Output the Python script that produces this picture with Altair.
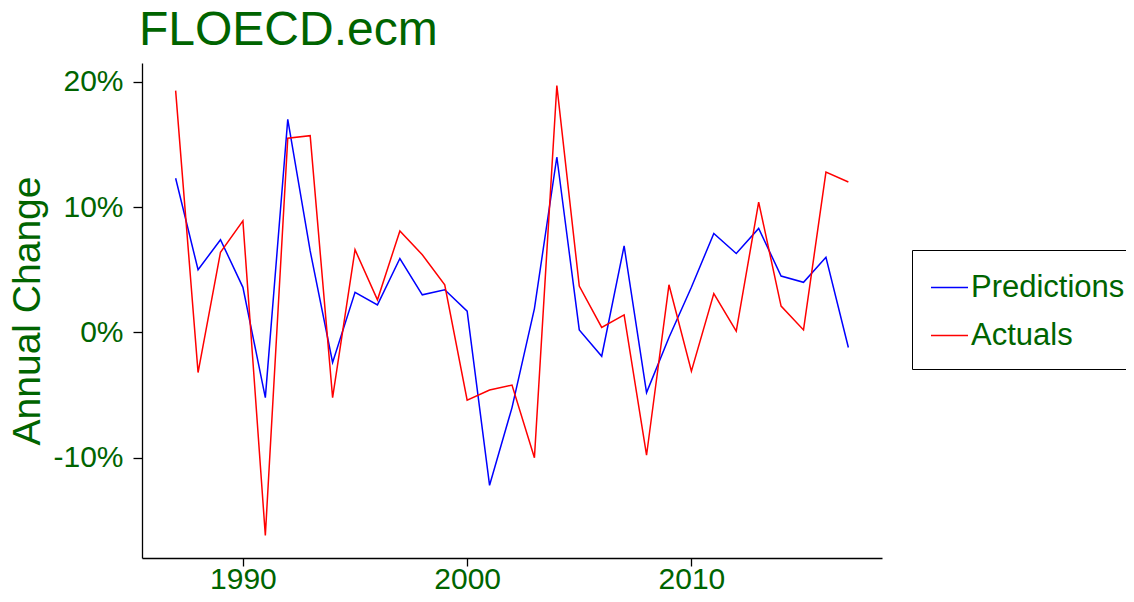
import altair as alt
import pandas as pd

years = list(range(1987, 2018))

predictions = [12.3, 5.0, 7.4, 3.6, -5.2, 17.0, 6.5, -2.4, 3.2, 2.2,
               5.9, 3.0, 3.4, 1.7, -12.2, -6.0, 1.9, 14.0, 0.2, -1.9,
               6.9, -4.8, -0.4, 3.6, 7.9, 6.3, 8.3, 4.5, 4.0, 6.0, -1.2]

actuals = [19.3, -3.2, 6.4, 8.9, -16.2, 15.5, 15.7, -5.2, 6.6, 2.6,
           8.1, 6.2, 3.8, -5.4, -4.6, -4.2, -10.0, 19.7, 3.7, 0.4,
           1.4, -9.8, 3.8, -3.1, 3.1, 0.1, 10.4, 2.1, 0.2, 12.8, 12.0]

series_names = ["Predictions", "Actuals"]
series_colors = ["#0000FF", "#FF0000"]

x_ticks = [1990, 2000, 2010]
y_ticks = [-0.1, 0.0, 0.1, 0.2]

title_text = ["FLOECD.ecm"]

rows = []
for name, vals in zip(series_names, [predictions, actuals]):
    for yr, v in zip(years, vals):
        rows.append({"year": yr, "value": v / 100.0, "series": name})
df = pd.DataFrame(rows)

GREEN = "#006400"
FONT = "Liberation Sans"

lines = alt.Chart(df).mark_line(strokeWidth=1.5).encode(
    x=alt.X(
        "year:Q",
        scale=alt.Scale(domain=[1985.5, 2018.5], nice=False, zero=False),
        axis=alt.Axis(values=x_ticks, format="d", title=None,
                      tickSize=8, labelPadding=-2),
    ),
    y=alt.Y(
        "value:Q",
        scale=alt.Scale(domain=[-0.18, 0.215], nice=False, zero=False),
        axis=alt.Axis(values=y_ticks, format=".0%", title="Annual Change",
                      labelExpr="replace(datum.label, '\u2212', '-')",
                      tickSize=9, labelPadding=10, titlePadding=5),
    ),
    color=alt.Color(
        "series:N",
        scale=alt.Scale(domain=series_names, range=series_colors),
        sort=series_names,
        legend=alt.Legend(
            title=None, orient="none", legendX=770, legendY=187,
            symbolType="stroke", symbolSize=1369, symbolStrokeWidth=1.5,
            labelFontSize=31, labelFont=FONT, labelColor=GREEN,
            labelOffset=2, rowPadding=13, padding=18,
            strokeColor="black", fillColor="white", cornerRadius=0,
        ),
    ),
    detail="series:N",
)

title = alt.Chart(pd.DataFrame({"t": title_text})).mark_text(
    align="left", baseline="alphabetic", fontSize=48, font=FONT,
    color=GREEN,
).encode(
    text="t:N",
    x=alt.value(-3),
    y=alt.value(-18),
)

chart = alt.layer(lines, title).properties(
    width=740,
    height=495,
    padding={"left": 134, "top": 55, "right": 244, "bottom": 36},
    autosize=alt.AutoSizeParams(type="none"),
).configure_view(
    stroke=None
).configure_axis(
    grid=False,
    domainColor="black",
    domainWidth=1.3,
    tickColor="black",
    tickWidth=1.3,
    labelColor=GREEN,
    titleColor=GREEN,
    labelFont=FONT,
    titleFont=FONT,
    labelFontSize=30,
    titleFontSize=39,
    titleFontWeight="normal",
)

chart.save("out.html", embed_options={"renderer": "svg", "actions": False})
